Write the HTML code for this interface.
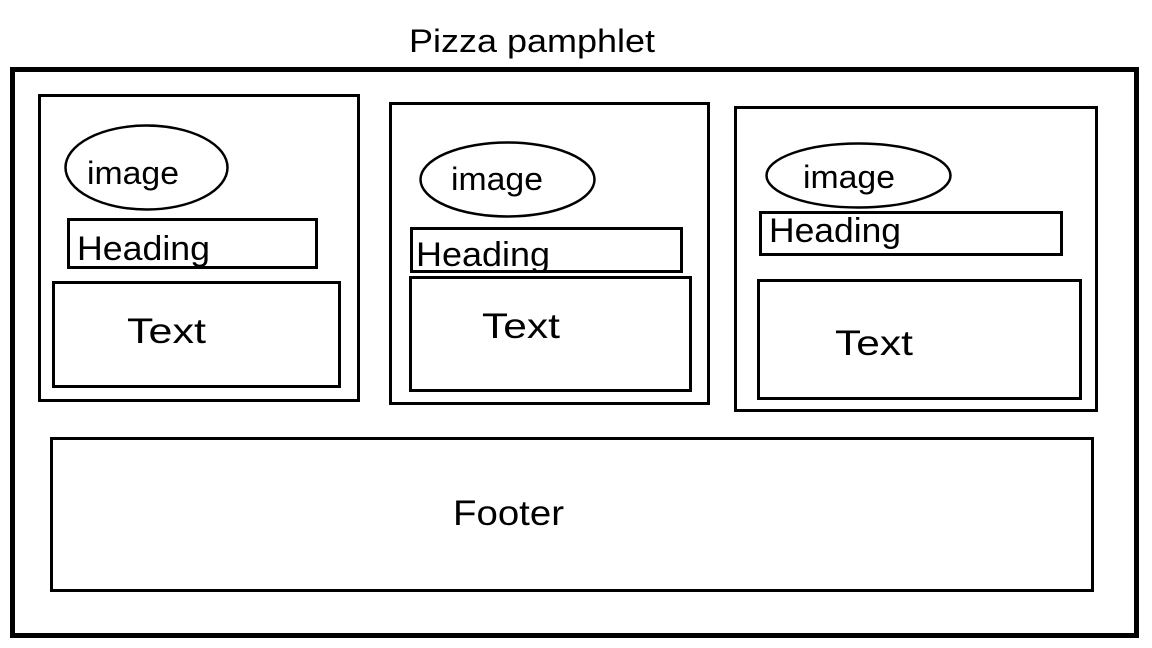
<!DOCTYPE html>
<html><head><meta charset="utf-8"><style>
html,body{margin:0;padding:0;background:#fff;}
svg{display:block;}
text{font-family:"Liberation Sans",sans-serif;fill:#000;}
</style></head><body>
<svg width="1152" height="648" viewBox="0 0 1152 648" xmlns="http://www.w3.org/2000/svg">
<g fill="none" stroke="#000">
<rect x="12.5" y="69.5" width="1124" height="566" stroke-width="5"/>
<g stroke-width="3">
<rect x="39.5" y="95.5" width="319" height="305"/>
<ellipse cx="146.5" cy="167.5" rx="81" ry="42" stroke-width="2.5"/>
<rect x="68.5" y="219.5" width="248" height="48"/>
<rect x="53.5" y="282.5" width="286" height="104"/>
<rect x="390.5" y="103.5" width="318" height="300"/>
<ellipse cx="507.5" cy="179.5" rx="87" ry="37" stroke-width="2.5"/>
<rect x="411.5" y="228.5" width="270" height="43"/>
<rect x="410.5" y="277.5" width="280" height="113"/>
<rect x="735.5" y="107.5" width="361" height="303"/>
<ellipse cx="858.5" cy="175.5" rx="92" ry="32" stroke-width="2.5"/>
<rect x="760.5" y="212.5" width="301" height="42"/>
<rect x="758.5" y="280.5" width="322" height="118"/>
<rect x="51.5" y="438.5" width="1041" height="152"/>
</g>
</g>
<text x="409" y="52" font-size="32" textLength="246" lengthAdjust="spacingAndGlyphs">Pizza pamphlet</text>
<text x="87" y="184" font-size="32" textLength="92" lengthAdjust="spacingAndGlyphs">image</text>
<text x="77" y="260" font-size="34" textLength="133" lengthAdjust="spacingAndGlyphs">Heading</text>
<text x="127" y="343" font-size="35" textLength="79" lengthAdjust="spacingAndGlyphs">Text</text>
<text x="451" y="190" font-size="32" textLength="92" lengthAdjust="spacingAndGlyphs">image</text>
<text x="416" y="266" font-size="34" textLength="134" lengthAdjust="spacingAndGlyphs">Heading</text>
<text x="482" y="338" font-size="35" textLength="78" lengthAdjust="spacingAndGlyphs">Text</text>
<text x="803" y="188" font-size="32" textLength="92" lengthAdjust="spacingAndGlyphs">image</text>
<text x="769" y="242" font-size="34" textLength="132" lengthAdjust="spacingAndGlyphs">Heading</text>
<text x="835" y="355" font-size="35" textLength="78" lengthAdjust="spacingAndGlyphs">Text</text>
<text x="453" y="525" font-size="35" textLength="111" lengthAdjust="spacingAndGlyphs">Footer</text>
</svg>
</body></html>
